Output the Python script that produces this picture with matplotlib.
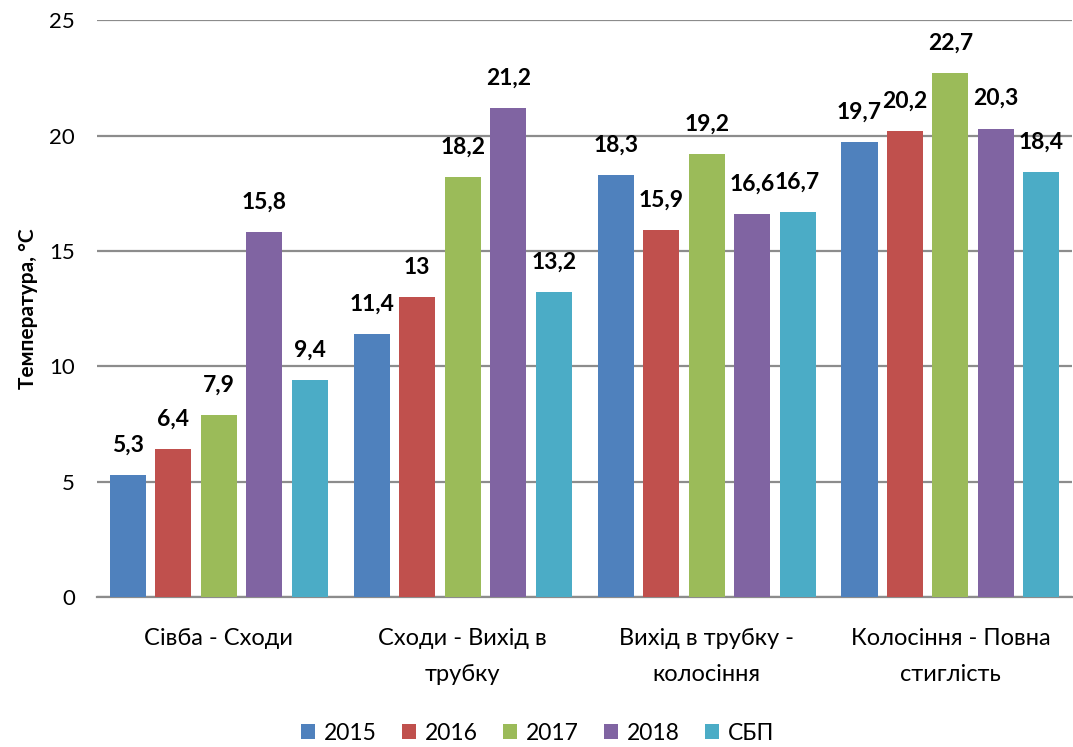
import numpy as np
import matplotlib
matplotlib.use('Agg')
import matplotlib.pyplot as plt

plt.rcParams['font.family'] = ['Lato', 'DejaVu Sans']

stages = ['Сівба - Сходи', 'Сходи - Вихід в\nтрубку', 'Вихід в трубку -\nколосіння', 'Колосіння - Повна\nстиглість']
series = ['2015', '2016', '2017', '2018', 'СБП']
v2015 = [5.3, 11.4, 18.3, 19.7]
v2016 = [6.4, 13, 15.9, 20.2]
v2017 = [7.9, 18.2, 19.2, 22.7]
v2018 = [15.8, 21.2, 16.6, 20.3]
vsbp = [9.4, 13.2, 16.7, 18.4]
values = [v2015, v2016, v2017, v2018, vsbp]
colors = ['#4F81BD', '#C0504D', '#9BBB59', '#8064A2', '#4BACC6']

fig = plt.figure(figsize=(10.73, 7.47), dpi=100)
ax = fig.add_axes([0.0904, 0.2008, 0.909, 0.7722])

x = np.arange(len(stages))
slot = 0.1865
w = 0.148
for i, (name, vals, c) in enumerate(zip(series, values, colors)):
    pos = x + (i - 2) * slot
    ax.bar(pos, vals, width=w, color=c, label=name, zorder=3)
    for p, v in zip(pos, vals):
        lbl = ('%g' % v).replace('.', ',')
        ax.annotate(lbl, (p, v), xytext=(0, 14), textcoords='offset points',
                    ha='center', va='bottom', fontsize=16.5, fontweight='bold')

ax.set_xlim(-0.5, 3.5)
ax.set_ylim(0, 25)
ax.set_yticks([0, 5, 10, 15, 20, 25])
ax.yaxis.grid(True, color='#8c8c8c', linewidth=1.6, zorder=0)
ax.set_axisbelow(True)
for s in ['top', 'right', 'left']:
    ax.spines[s].set_visible(False)
ax.spines['bottom'].set_color('#8c8c8c')
ax.spines['bottom'].set_linewidth(1.6)
ax.tick_params(axis='both', length=0)
ax.tick_params(axis='y', pad=16, labelsize=16)
ax.set_xticks(x)
ax.set_xticklabels(stages, linespacing=1.9, va='top')
ax.tick_params(axis='x', pad=22, labelsize=17)
ax.set_ylabel('Температура, °С', fontsize=15, fontweight='bold', labelpad=8)

ax.legend(loc='lower center', bbox_to_anchor=(0.452, -0.29), ncol=5, frameon=False,
          fontsize=16.5, handlelength=0.6, handleheight=0.6, handletextpad=0.4, columnspacing=1.1)

fig.savefig('out.png', dpi=100)
